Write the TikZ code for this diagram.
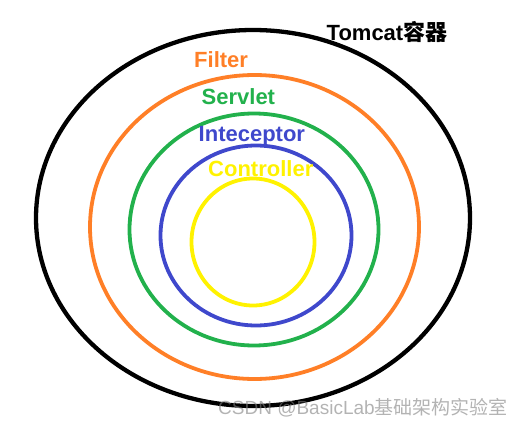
\documentclass[tikz,border=0pt]{standalone}
\usepackage{fontspec}
\setmainfont{Liberation Sans}
\newfontfamily\cjk{Noto Sans CJK SC}
\usepackage{tikz}
\definecolor{tcorange}{HTML}{FF7F27}
\definecolor{tcgreen}{HTML}{22B14C}
\definecolor{tcblue}{HTML}{3F48CC}
\definecolor{tcyellow}{HTML}{FFF200}
\tikzset{ring/.style={line width=3.8pt},
	lbl/.style={anchor=base west,inner sep=0pt,font=\fontsize{22}{26}\selectfont\bfseries}}

\begin{document}
\begin{tikzpicture}[x=1pt,y=-1pt]
	\useasboundingbox (0,0) rectangle (523,428);
	\draw[ring,line width=4.3pt,black] (253,218) ellipse (217 and 188);
	\draw[ring,tcorange] (254.5,227) ellipse (164.5 and 152);
	\draw[ring,tcgreen] (254,229.5) ellipse (124.5 and 116);
	\draw[ring,tcblue] (256,235.5) ellipse (95.5 and 90);
	\draw[ring,tcyellow] (253,242) ellipse (61.5 and 63.5);
	\node[lbl,black] (tomcat) at (326.5,40.5) {Tomcat{\cjk\bfseries 容器}};
	\node[lbl,tcorange] (filter) at (194,67.5) {Filter};
	\node[lbl,tcgreen] (servlet) at (201.5,105) {Servlet};
	\node[lbl,tcblue] (inter) at (198.5,141.5) {Inteceptor};
	\node[lbl,tcyellow] (ctrl) at (208,176) {Controller};
	\node[anchor=base west,inner sep=0pt,gray,opacity=.6,font=\fontsize{19}{22}\selectfont] (mark) at (218,414.5) {CSDN @BasicLab{\cjk 基础架构实验室}};
\end{tikzpicture}
\end{document}
